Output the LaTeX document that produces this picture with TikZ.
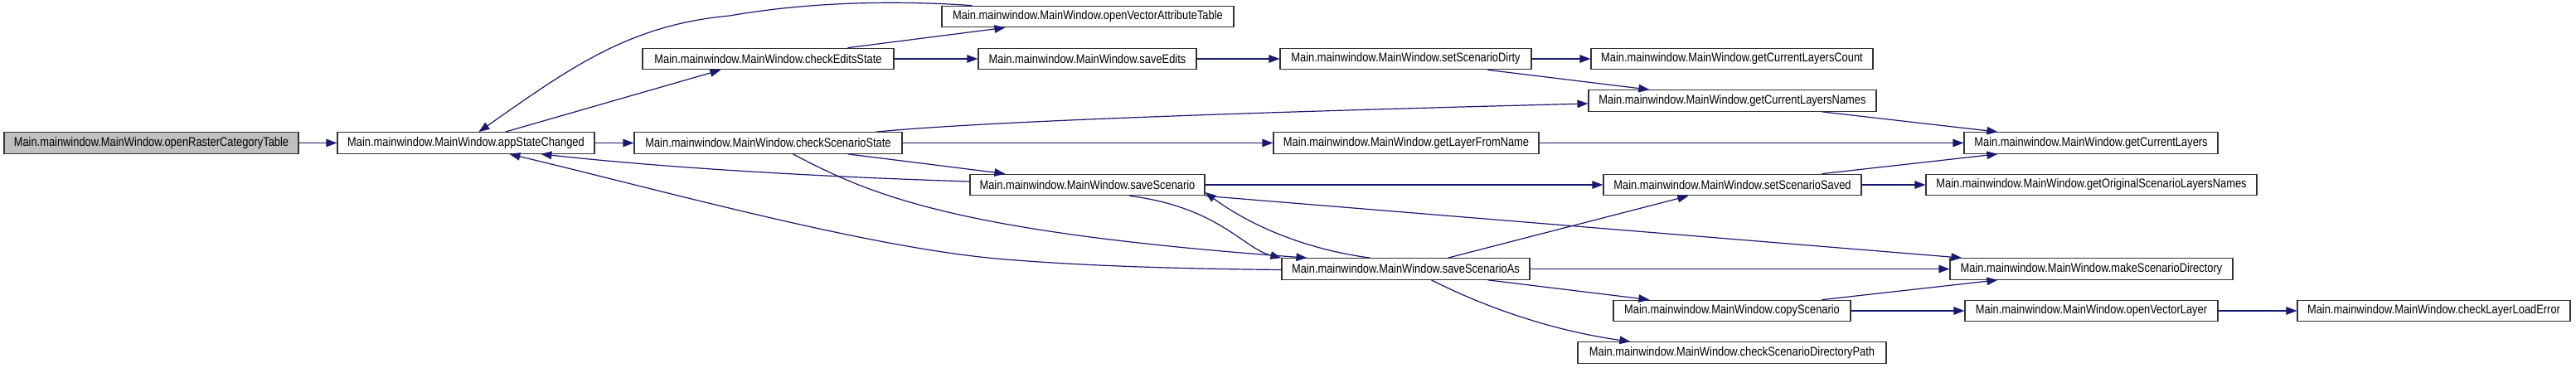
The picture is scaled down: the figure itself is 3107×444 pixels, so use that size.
\documentclass[tikz,border=0pt]{standalone}
\usepackage{fontspec}
\setmainfont[FakeStretch=0.85]{Liberation Sans}
\usetikzlibrary{arrows.meta}
\definecolor{edgeblue}{HTML}{191970}
\definecolor{boxgray}{HTML}{BFBFBF}
\begin{document}
\begin{tikzpicture}[x=1pt,y=-1pt,
  fnbox/.style={draw=black!80, line width=1.2pt, fill=white, minimum height=25.5pt,
    inner sep=0pt, font=\fontsize{15.15}{18}\selectfont, anchor=center},
  curbox/.style={fnbox, fill=boxgray},
  callarrow/.style={draw=edgeblue, line width=1.2pt,
    -{Triangle[length=13pt,width=9.5pt,fill=edgeblue]}}]
\useasboundingbox[fill=white] (0,0) rectangle (3107,444);

\node[curbox, minimum width=355pt] (ort) at (182.5,172.5) {Main.mainwindow.MainWindow.openRasterCategoryTable};
\node[fnbox, minimum width=310pt] (asc) at (562,172.5) {Main.mainwindow.MainWindow.appStateChanged};
\node[fnbox, minimum width=303pt] (ces) at (926.5,71) {Main.mainwindow.MainWindow.checkEditsState};
\node[fnbox, minimum width=323pt] (css) at (926.5,172.5) {Main.mainwindow.MainWindow.checkScenarioState};
\node[fnbox, minimum width=352pt] (ovat) at (1312,20) {Main.mainwindow.MainWindow.openVectorAttributeTable};
\node[fnbox, minimum width=263pt] (se) at (1311.5,71) {Main.mainwindow.MainWindow.saveEdits};
\node[fnbox, minimum width=283pt] (ss) at (1311.5,223) {Main.mainwindow.MainWindow.saveScenario};
\node[fnbox, minimum width=303pt] (sdirty) at (1695.5,71) {Main.mainwindow.MainWindow.setScenarioDirty};
\node[fnbox, minimum width=320pt] (glfn) at (1696,172.5) {Main.mainwindow.MainWindow.getLayerFromName};
\node[fnbox, minimum width=299pt] (ssa) at (1695.5,324.5) {Main.mainwindow.MainWindow.saveScenarioAs};
\node[fnbox, minimum width=340pt] (glc) at (2089,71) {Main.mainwindow.MainWindow.getCurrentLayersCount};
\node[fnbox, minimum width=347pt] (gcln) at (2089.5,121.5) {Main.mainwindow.MainWindow.getCurrentLayersNames};
\node[fnbox, minimum width=311pt] (ssaved) at (2089.5,223) {Main.mainwindow.MainWindow.setScenarioSaved};
\node[fnbox, minimum width=286pt] (cs) at (2089,375) {Main.mainwindow.MainWindow.copyScenario};
\node[fnbox, minimum width=372pt] (csdp) at (2089,425.5) {Main.mainwindow.MainWindow.checkScenarioDirectoryPath};
\node[fnbox, minimum width=306pt] (gcl) at (2522,172.5) {Main.mainwindow.MainWindow.getCurrentLayers};
\node[fnbox, minimum width=399pt] (gosln) at (2522.5,223) {Main.mainwindow.MainWindow.getOriginalScenarioLayersNames};
\node[fnbox, minimum width=341pt] (msd) at (2522.5,324.5) {Main.mainwindow.MainWindow.makeScenarioDirectory};
\node[fnbox, minimum width=305pt] (ovl) at (2522.5,375) {Main.mainwindow.MainWindow.openVectorLayer};
\node[fnbox, minimum width=329pt] (clle) at (2935.5,375) {Main.mainwindow.MainWindow.checkLayerLoadError};

\draw[callarrow] (ort.east) -- (asc.west);
\draw[callarrow] (asc.east) -- (css.west);
\draw[callarrow] ([xshift=203pt]asc.north west) -- ([xshift=95pt]ces.south west);
\draw[callarrow] ([xshift=37pt]ovat.north west) .. controls (1060,-1) and (960,5) .. (880,19)
  .. controls (760,30) and (690,80) .. ([xshift=171pt]asc.north west);
\draw[callarrow] ([xshift=248pt]ces.north west) -- ([xshift=77pt]ovat.south west);
\draw[callarrow] (ces.east) -- (se.west);
\draw[callarrow] (se.east) -- (sdirty.west);
\draw[callarrow] (sdirty.east) -- (glc.west);
\draw[callarrow] ([xshift=251pt]sdirty.south west) -- ([xshift=74pt]gcln.north west);
\draw[callarrow] ([xshift=292pt]css.north west) .. controls (1200,145) and (1600,133) .. ([yshift=-3.5pt]gcln.west);
\draw[callarrow] (css.east) -- (glfn.west);
\draw[callarrow] (glfn.east) -- (gcl.west);
\draw[callarrow] ([xshift=282pt]gcln.south west) -- ([xshift=41pt]gcl.north west);
\draw[callarrow] ([xshift=264pt]ssaved.north west) -- ([xshift=41pt]gcl.south west);
\draw[callarrow] ([xshift=258pt]css.south west) -- ([xshift=43pt]ss.north west);
\draw[callarrow] ([xshift=192pt]css.south west) .. controls (1050,235) and (1150,280) .. ([xshift=31pt]ssa.north west);
\draw[callarrow] ([xshift=193pt]ss.south west) .. controls (1470,250) and (1500,300) .. (ssa.north west);
\draw[callarrow] ([xshift=107pt]ssa.north west) .. controls (1570,300) and (1505,270) .. ([yshift=-9pt]ss.east);
\draw[callarrow] ([yshift=4pt]ss.west) .. controls (950,212) and (780,200) .. ([xshift=246pt]asc.south west);
\draw[callarrow] ([yshift=-1pt]ssa.west) .. controls (1400,324) and (1300,320) .. (1213,313)
  .. controls (1050,300) and (800,230) .. ([xshift=208pt]asc.south west);
\draw[callarrow] (ss.east) -- (ssaved.west);
\draw[callarrow] (ss.south east) -- ([xshift=15pt]msd.north west);
\draw[callarrow] ([xshift=201pt]ssa.north west) -- ([xshift=103pt]ssaved.south west);
\draw[callarrow] (ssa.east) -- (msd.west);
\draw[callarrow] ([xshift=249pt]ssa.south west) -- ([xshift=44pt]cs.north west);
\draw[callarrow] ([xshift=181pt]ssa.south west) .. controls (1800,375) and (1880,400) .. ([xshift=64pt]csdp.north west);
\draw[callarrow] ([xshift=252pt]cs.north west) -- ([xshift=58pt]msd.south west);
\draw[callarrow] (cs.east) -- (ovl.west);
\draw[callarrow] (ovl.east) -- (clle.west);
\draw[callarrow] (ssaved.east) -- (gosln.west);
\end{tikzpicture}
\end{document}
